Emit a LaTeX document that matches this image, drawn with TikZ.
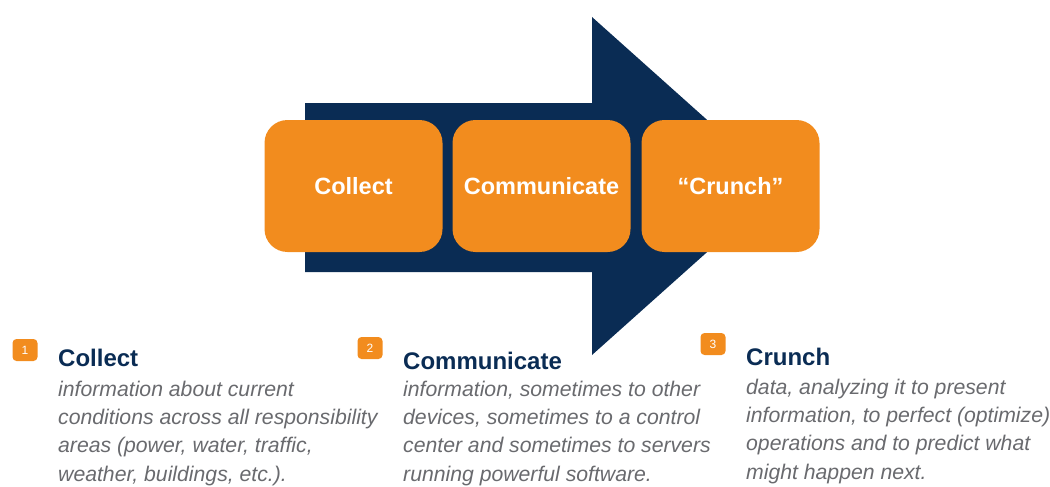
\documentclass[tikz,border=0pt]{standalone}
\usepackage{fontspec}
\setmainfont{Liberation Sans}
\definecolor{navy}{RGB}{10,44,84}
\definecolor{orng}{RGB}{242,140,30}
\definecolor{txtgray}{RGB}{105,106,110}
\tikzset{
  box/.style={fill=orng, rounded corners=23pt, minimum width=178pt, minimum height=132pt, inner sep=0pt,
    text=white, font=\fontsize{23.5}{27}\selectfont\bfseries},
  badge/.style={fill=orng, rounded corners=4pt, minimum width=25pt, minimum height=22pt, inner sep=0pt,
    text=white, font=\fontsize{12}{14}\selectfont},
  head/.style={anchor=base west, inner sep=0pt, text=navy, font=\fontsize{24}{28}\selectfont\bfseries},
  body/.style={anchor=base west, inner sep=0pt, align=left, text=txtgray, font=\fontsize{21.2}{28.3}\selectfont\itshape},
}
\begin{document}
\begin{tikzpicture}[x=1pt,y=-1pt]
\useasboundingbox (0,0) rectangle (1050,487);
\fill[navy] (305,103) -- (592,103) -- (592,17) -- (781,186) -- (592,355) -- (592,272) -- (305,272) -- cycle;
\node[box] (b1) at (353.5,186) {Collect};
\node[box] (b2) at (541.5,186) {Communicate};
\node[box] (b3) at (730.5,186) {``Crunch''};

\node[badge] (n1) at (25,350) {1};
\node[badge] (n2) at (370,348) {2};
\node[badge] (n3) at (713,344) {3};

\node[head] (h1) at (58,366) {Collect};
\node[head] (h2) at (403,369) {Communicate};
\node[head] (h3) at (746,365) {Crunch};

\node[body] (t1) at (58,481) {information about current\\conditions across all responsibility\\areas (power, water, traffic,\\weather, buildings, etc.).};
\node[body] (t2) at (403,481) {information, sometimes to other\\devices, sometimes to a control\\center and sometimes to servers\\running powerful software.};
\node[body] (t3) at (746,479) {data, analyzing it to present\\information, to perfect (optimize)\\operations and to predict what\\might happen next.};
\end{tikzpicture}
\end{document}
